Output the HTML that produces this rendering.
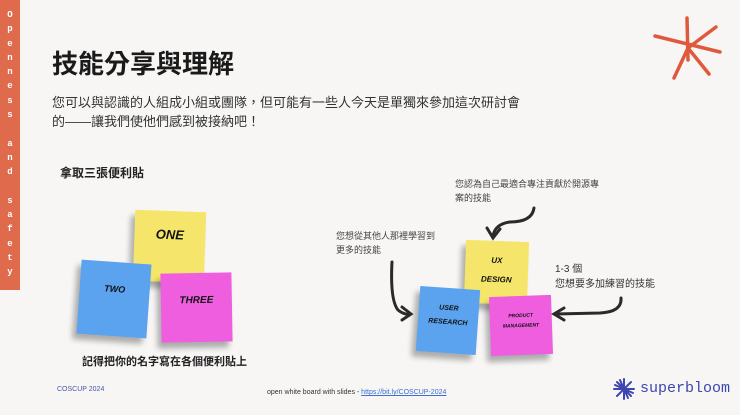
<!DOCTYPE html>
<html><head><meta charset="utf-8"><style>
body{margin:0;width:740px;height:415px;background:#f7f6f5;overflow:hidden;position:relative;font-family:"Liberation Sans","Noto Sans CJK TC",sans-serif;color:#222}
.a{position:absolute}
.bar{left:0;top:0;width:20px;height:290px;background:#df6a4c;color:#fff;font:bold 9px "Liberation Mono",monospace;text-align:center;line-height:14.3px;padding-top:8px;box-sizing:border-box}
.note{position:absolute;box-shadow:-4px 6px 6px rgba(0,0,0,.3);font-family:"Liberation Sans",sans-serif;font-weight:bold;font-style:italic;text-align:center;color:#111}
.y{background:#f5e66b}.b{background:#5ba3ef}.p{background:#f05ee0}
</style></head><body>
<div class="a bar">O<br>p<br>e<br>n<br>n<br>e<br>s<br>s<br><br>a<br>n<br>d<br><br>s<br>a<br>f<br>e<br>t<br>y</div>
<div class="a" style="left:52px;top:44px;font-size:26px;font-weight:bold;color:#1a1a1a">技能分享與理解</div>
<div class="a" style="left:52px;top:93px;font-size:13px;line-height:19px;color:#333">您可以與認識的人組成小組或團隊，但可能有一些人今天是單獨來參加這次研討會<br>的——讓我們使他們感到被接納吧！</div>
<div class="a" style="left:60px;top:164px;font-size:12px;font-weight:bold">拿取三張便利貼</div>
<div class="note y" style="left:134px;top:211px;width:71px;height:71px;transform:rotate(2deg);font-size:13px;padding-top:16px;box-sizing:border-box">ONE</div>
<div class="note b" style="left:79px;top:262px;width:70px;height:74px;transform:rotate(4deg);font-size:9px;padding-top:22px;box-sizing:border-box">TWO</div>
<div class="note p" style="left:161px;top:273px;width:71px;height:69px;transform:rotate(-1deg);font-size:10px;padding-top:22px;box-sizing:border-box">THREE</div>
<div class="a" style="left:82px;top:353px;font-size:11px;font-weight:bold">記得把你的名字寫在各個便利貼上</div>
<div class="a" style="left:455px;top:177px;font-size:9px;line-height:14px;color:#444">您認為自己最適合專注貢獻於開源專<br>案的技能</div>
<div class="a" style="left:336px;top:229px;font-size:9px;line-height:14px;color:#444">您想從其他人那裡學習到<br>更多的技能</div>
<div class="a" style="left:555px;top:262px;font-size:10px;line-height:15px;color:#333">1-3 個<br>您想要多加練習的技能</div>
<div class="note y" style="left:465px;top:241px;width:63px;height:63px;transform:rotate(2deg);font-size:8px;line-height:19px;padding-top:10px;box-sizing:border-box">UX<br>DESIGN</div>
<div class="note b" style="left:418px;top:288px;width:60px;height:65px;transform:rotate(4deg);font-size:7px;line-height:14px;padding-top:14px;box-sizing:border-box">USER<br>RESEARCH</div>
<div class="note p" style="left:490px;top:296px;width:62px;height:59px;transform:rotate(-2deg);font-size:5px;line-height:10px;padding-top:15px;box-sizing:border-box">PRODUCT<br>MANAGEMENT</div>
<svg class="a" style="left:0;top:0" width="740" height="415">
<g stroke="#2a2a2a" stroke-width="3" fill="none" stroke-linecap="round">
<path d="M534 208 Q532 222 510 222 Q495 224 493 236"/><path d="M487 228 L493 238 L500 229"/>
<path d="M392 262 Q390 300 398 310 Q404 315 410 314"/><path d="M402 307 L411 314 L402 320"/>
<path d="M621 298 Q622 312 600 313 L556 314"/><path d="M564 308 L554 314 L564 320"/>
</g>
<g stroke="#df5a3c" stroke-width="3.5" stroke-linecap="round">
<path d="M687 18 L688 60"/><path d="M655 36 L720 52"/><path d="M716 27 L688 48"/><path d="M688 48 L674 78"/><path d="M688 48 L709 74"/>
</g>
<g stroke="#3d46b0" stroke-width="2" stroke-linecap="round" transform="translate(624,389)">
<path d="M0 -10 L0 10 M-10 0 L10 0 M-7 -7 L7 7 M-7 7 L7 -7 M-4 -9 L4 9 M-9 -4 L9 4"/>
</g>
</svg>
<div class="a" style="left:640px;top:380px;font:15px 'Liberation Mono',monospace;color:#3d46b0">superbloom</div>
<div class="a" style="left:57px;top:386px;font-size:7px;color:#4a55a8">COSCUP 2024</div>
<div class="a" style="left:267px;top:389px;font-size:7px;color:#333">open white board with slides - <span style="color:#3b6fd0;text-decoration:underline">https://bit.ly/COSCUP-2024</span></div>
</body></html>
